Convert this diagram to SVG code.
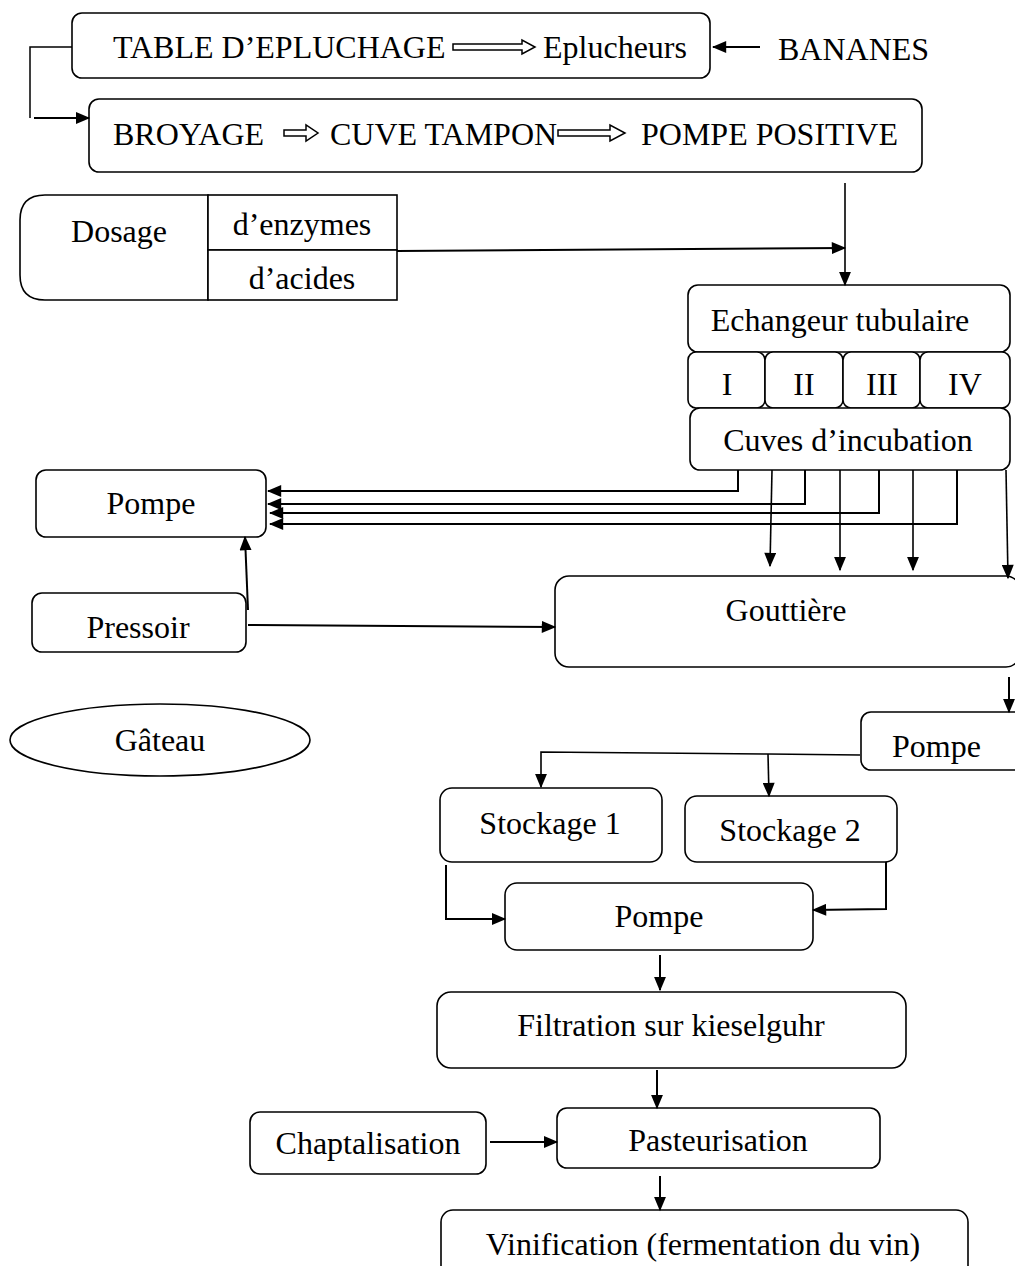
<svg xmlns="http://www.w3.org/2000/svg" width="1015" height="1266" viewBox="0 0 1015 1266">
<style>
.b{fill:#fff;stroke:#000;stroke-width:1.6}
.t{font-family:"Liberation Serif","Times New Roman",serif;font-size:32px;fill:#000}
.m{text-anchor:middle}
.c{fill:none;stroke:#000;stroke-width:2}
.h{fill:#fff;stroke:#000;stroke-width:1.5}
</style>
<defs>
<marker id="a" viewBox="0 0 12 10" refX="11" refY="5" markerWidth="15" markerHeight="12" markerUnits="userSpaceOnUse" orient="auto">
<path d="M0,0 L12,5 L0,10 Z" fill="#000"/>
</marker>
</defs>
<rect width="1015" height="1266" fill="#fff"/>

<g id="table">
<rect class="b" x="72" y="13" width="638" height="65" rx="10"/>
<text class="t" x="113" y="58">TABLE D’EPLUCHAGE</text>
<polygon class="h" points="453,44 522,44 522,40 535,47 522,54 522,50 453,50"/>
<text class="t" x="543" y="58">Eplucheurs</text>
</g>
<g id="bananes">
<text class="t" x="778" y="60">BANANES</text>
</g>
<g id="broyage">
<rect class="b" x="89" y="99" width="833" height="73" rx="10"/>
<text class="t" x="113" y="145">BROYAGE</text>
<polygon class="h" points="284,130 306,130 306,125 318,133 306,141 306,136 284,136"/>
<text class="t" x="330" y="145">CUVE TAMPON</text>
<polygon class="h" points="558,130 610,130 610,125 625,133 610,141 610,136 558,136"/>
<text class="t" x="641" y="145">POMPE POSITIVE</text>
</g>
<g id="dosage">
<path class="b" d="M208,195 L45,195 Q20,195 20,220 L20,275 Q20,300 45,300 L208,300 Z"/>
<rect class="b" x="208" y="195" width="189" height="55"/>
<rect class="b" x="208" y="250" width="189" height="50"/>
<text class="t m" x="119" y="242">Dosage</text>
<text class="t m" x="302" y="235">d’enzymes</text>
<text class="t m" x="302" y="289">d’acides</text>
</g>
<g id="echangeur">
<rect class="b" x="688" y="285" width="322" height="67" rx="10"/>
<text class="t m" x="840" y="331">Echangeur tubulaire</text>
</g>
<g id="sections">
<rect class="b" x="688" y="352" width="77" height="56" rx="8"/>
<rect class="b" x="765" y="352" width="78" height="56" rx="8"/>
<rect class="b" x="843" y="352" width="77" height="56" rx="8"/>
<rect class="b" x="920" y="352" width="90" height="56" rx="8"/>
<text class="t m" x="727" y="395">I</text>
<text class="t m" x="804" y="395">II</text>
<text class="t m" x="882" y="395">III</text>
<text class="t m" x="965" y="395">IV</text>
</g>
<g id="cuves">
<rect class="b" x="690" y="408" width="320" height="62" rx="10"/>
<text class="t m" x="848" y="451">Cuves d’incubation</text>
</g>
<g id="pompe1">
<rect class="b" x="36" y="470" width="230" height="67" rx="10"/>
<text class="t m" x="151" y="514">Pompe</text>
</g>
<g id="pressoir">
<rect class="b" x="32" y="593" width="214" height="59" rx="10"/>
<text class="t m" x="138" y="638">Pressoir</text>
</g>
<g id="gouttiere">
<rect class="b" x="555" y="576" width="465" height="91" rx="14"/>
<text class="t m" x="786" y="621">Gouttière</text>
</g>
<g id="gateau">
<ellipse class="b" cx="160" cy="740" rx="150" ry="36"/>
<text class="t m" x="160" y="751">Gâteau</text>
</g>
<g id="pompe2">
<rect class="b" x="861" y="712" width="165" height="58" rx="10"/>
<text class="t" x="892" y="757">Pompe</text>
</g>
<g id="stockage1">
<rect class="b" x="440" y="788" width="222" height="74" rx="12"/>
<text class="t m" x="550" y="834">Stockage 1</text>
</g>
<g id="stockage2">
<rect class="b" x="685" y="796" width="212" height="66" rx="12"/>
<text class="t m" x="790" y="841">Stockage 2</text>
</g>
<g id="pompe3">
<rect class="b" x="505" y="883" width="308" height="67" rx="12"/>
<text class="t m" x="659" y="927">Pompe</text>
</g>
<g id="filtration">
<rect class="b" x="437" y="992" width="469" height="76" rx="14"/>
<text class="t m" x="671" y="1036">Filtration sur kieselguhr</text>
</g>
<g id="chaptalisation">
<rect class="b" x="250" y="1112" width="236" height="62" rx="10"/>
<text class="t m" x="368" y="1154">Chaptalisation</text>
</g>
<g id="pasteurisation">
<rect class="b" x="557" y="1108" width="323" height="60" rx="10"/>
<text class="t m" x="718" y="1151">Pasteurisation</text>
</g>
<g id="vinification">
<rect class="b" x="441" y="1210" width="527" height="70" rx="12"/>
<text class="t m" x="703" y="1255">Vinification (fermentation du vin)</text>
</g>

<g id="connectors">
<path class="c" d="M760,47 L713,47" marker-end="url(#a)"/>
<path class="c" d="M72,47 L30,47 L30,118" style="stroke-width:1.5"/>
<path class="c" d="M34,118 L89,118" marker-end="url(#a)"/>
<path class="c" d="M845,183 L845,285" style="stroke-width:1.6" marker-end="url(#a)"/>
<path class="c" d="M397,251 L845,248" marker-end="url(#a)"/>
<path class="c" d="M738,470 L738,491 L268,491" marker-end="url(#a)"/>
<path class="c" d="M805,470 L805,504 L268,504" marker-end="url(#a)"/>
<path class="c" d="M879,470 L879,513 L270,513" marker-end="url(#a)"/>
<path class="c" d="M957,470 L957,524 L270,524" marker-end="url(#a)"/>
<path class="c" d="M772,470 L770,566" style="stroke-width:1.6" marker-end="url(#a)"/>
<path class="c" d="M840,470 L840,570" style="stroke-width:1.6" marker-end="url(#a)"/>
<path class="c" d="M913,470 L913,570" style="stroke-width:1.6" marker-end="url(#a)"/>
<path class="c" d="M1006,470 L1008,578" style="stroke-width:1.6" marker-end="url(#a)"/>
<path class="c" d="M248,610 L245,537" marker-end="url(#a)"/>
<path class="c" d="M248,625 L555,627" marker-end="url(#a)"/>
<path class="c" d="M1009,677 L1009,712" marker-end="url(#a)"/>
<path class="c" d="M860,755 L768,754 L541,752 L541,787" style="stroke-width:1.6" marker-end="url(#a)"/>
<path class="c" d="M768,754 L769,796" style="stroke-width:1.6" marker-end="url(#a)"/>
<path class="c" d="M446,865 L446,919 L505,919" marker-end="url(#a)"/>
<path class="c" d="M886,862 L886,909 L813,910" marker-end="url(#a)"/>
<path class="c" d="M660,955 L660,990" marker-end="url(#a)"/>
<path class="c" d="M657,1070 L657,1108" marker-end="url(#a)"/>
<path class="c" d="M490,1142 L557,1142" marker-end="url(#a)"/>
<path class="c" d="M660,1176 L660,1210" marker-end="url(#a)"/>
</g>
</svg>
